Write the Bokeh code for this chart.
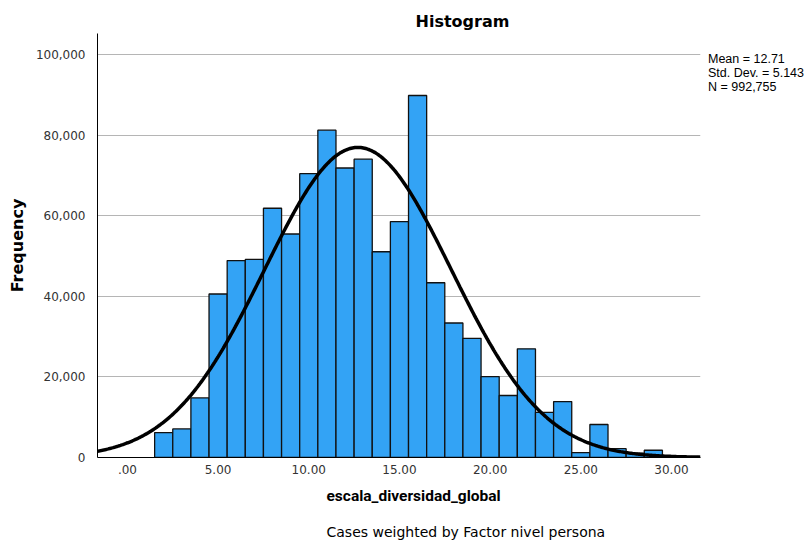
import numpy as np
from bokeh.plotting import figure
from bokeh.models import (FixedTicker, NumeralTickFormatter, Range1d, Title,
                          Legend, LegendItem)
from bokeh.embed import file_html
from bokeh.resources import INLINE

# ---- data ----
bin_centers = list(range(2, 30))
frequencies = [6200, 7100, 14800, 40600, 48900, 49200, 61900, 55500, 70500,
               81300, 71900, 74100, 51100, 58600, 89900, 43400, 33400, 29600,
               20100, 15400, 27000, 11200, 13900, 1200, 8200, 2200, 1100, 1800]
bin_width = 1.0
stat_mean = 12.71
stat_sd = 5.143
stat_n = 992755
x_tick_values = [0, 5, 10, 15, 20, 25, 30]
x_tick_labels = [".00", "5.00", "10.00", "15.00", "20.00", "25.00", "30.00"]
y_tick_values = [0, 20000, 40000, 60000, 80000, 100000]
legend_lines = ["Mean = 12.71", "Std. Dev. = 5.143", "N = 992,755"]

X0, X1 = -1.65, 31.6
Y0, Y1 = 0, 105300

p = figure(width=810, height=541, frame_width=603, frame_height=424,
           min_border_left=97, min_border_right=110, min_border_top=33,
           min_border_bottom=84, output_backend="svg", toolbar_location=None,
           x_range=Range1d(X0, X1), y_range=Range1d(Y0, Y1))
p.outline_line_color = None
p.background_fill_color = "white"
p.border_fill_color = "white"

# bars
p.vbar(x=bin_centers, top=frequencies, width=bin_width, bottom=0,
       fill_color="#33a3f5", line_color="#111111", line_width=1.3)

# fitted normal curve from the stated statistics
xs = np.linspace(X0, X1, 500)
ys = stat_n * bin_width / (stat_sd * np.sqrt(2 * np.pi)) * np.exp(-0.5 * ((xs - stat_mean) / stat_sd) ** 2)
p.line(xs, ys, line_color="black", line_width=3.5)

# axes
p.xgrid.grid_line_color = None
p.ygrid.grid_line_color = "#b5b5b5"
p.ygrid.grid_line_width = 1
p.ygrid.level = "underlay"

p.xaxis.ticker = FixedTicker(ticks=x_tick_values)
p.xaxis.major_label_overrides = {v: l for v, l in zip(x_tick_values, x_tick_labels)}
p.yaxis.ticker = FixedTicker(ticks=y_tick_values)
p.yaxis.formatter = NumeralTickFormatter(format="0,0")

for ax in (p.xaxis[0], p.yaxis[0]):
    ax.major_tick_line_color = None
    ax.minor_tick_line_color = None
    ax.axis_line_color = "black"
    ax.axis_line_width = 1
    ax.major_label_text_font = "DejaVu Sans"
    ax.major_label_text_font_size = "12px"
    ax.major_label_text_color = "#333333"

p.xaxis.major_label_standoff = 1
p.yaxis.major_label_standoff = 6

p.yaxis.axis_label = "Frequency"
p.yaxis.axis_label_text_font = "DejaVu Sans"
p.yaxis.axis_label_text_font_style = "bold"
p.yaxis.axis_label_text_font_size = "16px"
p.yaxis.axis_label_text_color = "black"
p.yaxis.axis_label_standoff = 6

# title above
p.add_layout(Title(text="Histogram", align="left", offset=318, standoff=6,
                   text_font="DejaVu Sans", text_font_style="bold",
                   text_font_size="16px", text_color="black"), "above")

# x-axis label and caption below
p.add_layout(Title(text="escala_diversidad_global", align="left", offset=229,
                   standoff=17, text_font="Roboto", text_font_style="bold",
                   text_font_size="15.5px", text_color="black"), "below")
p.add_layout(Title(text="Cases weighted by Factor nivel persona", align="left",
                   offset=229, standoff=17, text_font="DejaVu Sans",
                   text_font_style="normal", text_font_size="14px",
                   text_color="black"), "below")

# statistics box on the right
dummy = p.line(x=[], y=[], line_alpha=0)
items = [LegendItem(label=t, renderers=[dummy]) for t in legend_lines]
leg = Legend(items=items, location=(0, 363.5), orientation="vertical",
             glyph_width=0, glyph_height=10, label_height=10, label_width=10,
             label_standoff=8, spacing=-4, padding=0, margin=0,
             border_line_color=None, background_fill_alpha=0,
             label_text_font="Liberation Sans", label_text_font_size="12.5px",
             label_text_color="black")
p.add_layout(leg, "right")

open("out.html", "w").write(file_html(p, INLINE))
